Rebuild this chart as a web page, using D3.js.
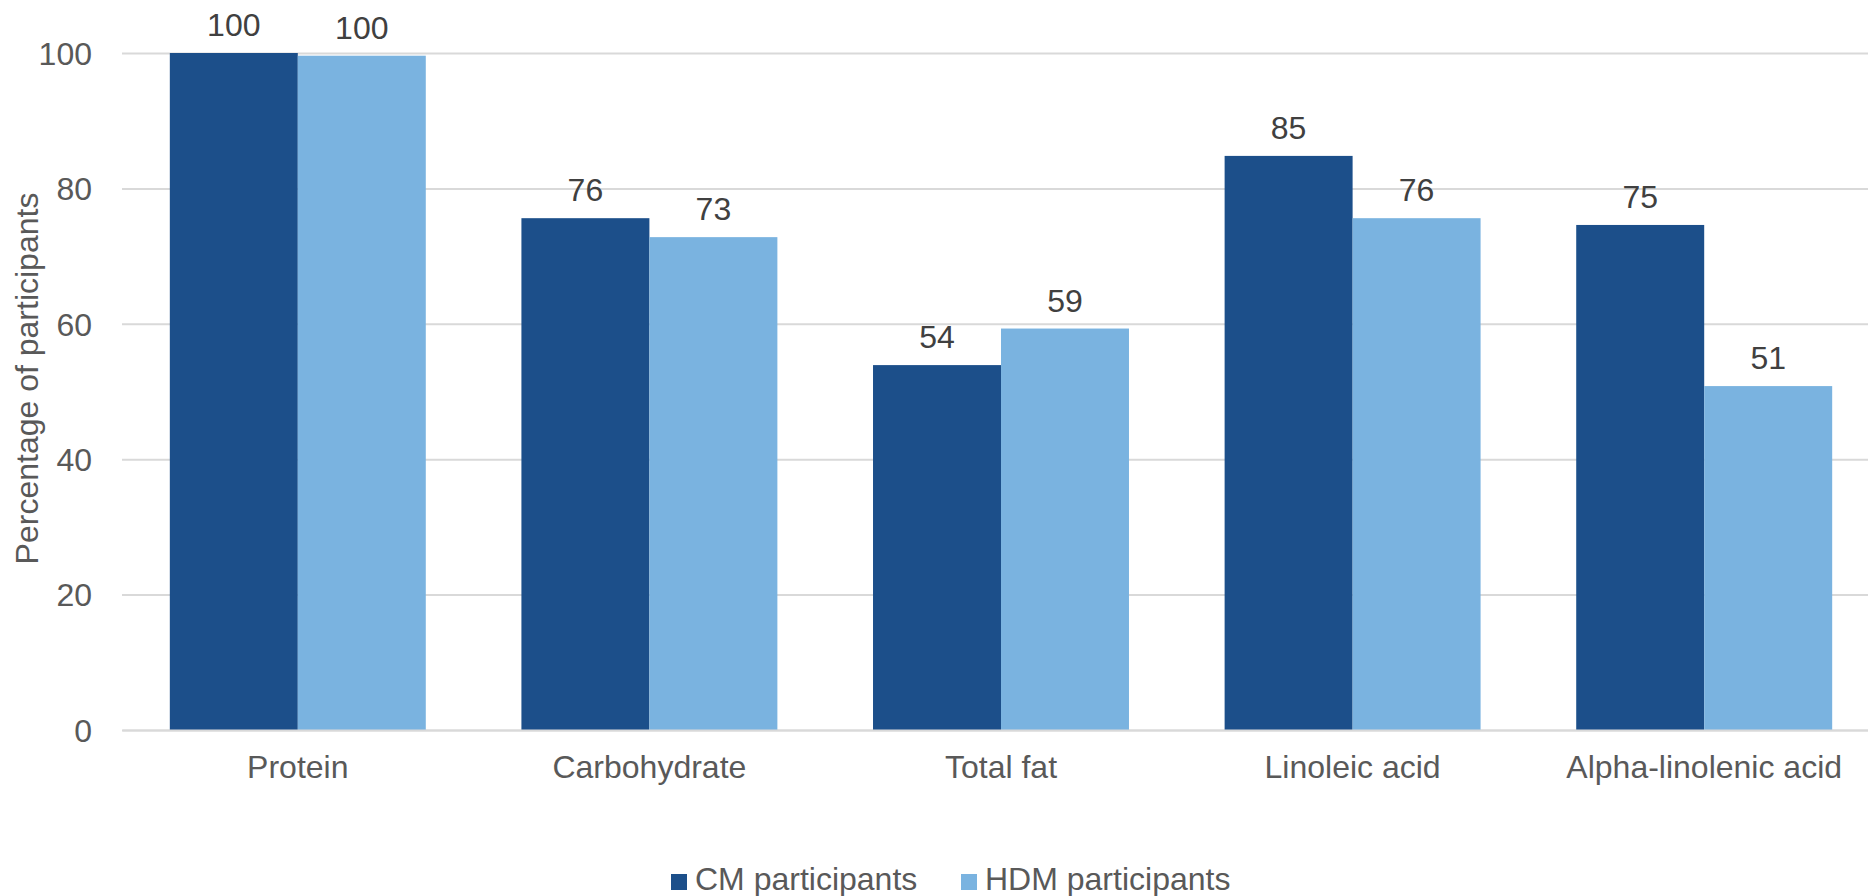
<!DOCTYPE html>
<html>
<head>
<meta charset="utf-8">
<script src="https://cdn.jsdelivr.net/npm/d3@7"></script>
<style>
  html, body { margin: 0; padding: 0; background: #ffffff; }
  svg { display: block; font-family: "Liberation Sans", Arial, sans-serif; }
</style>
</head>
<body>
<svg id="chart" width="1868" height="896"></svg>
<script>
// Nutrients assessed
const categories = ["Protein", "Carbohydrate", "Total fat", "Linoleic acid", "Alpha-linolenic acid"];
// Series names and values (percentage of participants)
const seriesNames = ["CM participants", "HDM participants"];
const cmValues  = [100, 75.6, 53.9, 84.8, 74.6];
const hdmValues = [99.6, 72.8, 59.3, 75.6, 50.8];
const yTicks = [0, 20, 40, 60, 80, 100];

const colors = ["#1c4f8a", "#7ab3e0"];
const seriesValues = [cmValues, hdmValues];

const svg = d3.select("#chart");
const W = 1868, H = 896;
const plot = { left: 122, right: 1880, top: 53, bottom: 730 };

const x = d3.scaleBand()
  .domain(categories)
  .range([plot.left, plot.right])
  .paddingInner(0.272)
  .paddingOuter(0.136);

const xs = d3.scaleBand()
  .domain(seriesNames)
  .range([0, x.bandwidth()]);

const y = d3.scaleLinear()
  .domain([0, 100])
  .range([plot.bottom, plot.top]);

// Horizontal gridlines with tick labels
const yAxis = d3.axisLeft(y)
  .tickValues(yTicks)
  .tickSize(-(plot.right - plot.left))
  .tickPadding(30)
  .tickFormat(d3.format("d"));

const gy = svg.append("g")
  .attr("transform", `translate(${plot.left},0)`)
  .call(yAxis);
gy.select(".domain").remove();
gy.selectAll(".tick line").attr("stroke", "#d9d9d9").attr("stroke-width", 2);
gy.selectAll(".tick text")
  .attr("fill", "#595959")
  .attr("font-size", 32)
  .attr("font-family", "Liberation Sans, Arial, sans-serif")
  .attr("dy", "0.35em");

// Bars
const rows = categories.map((c, i) => ({
  category: c,
  values: seriesNames.map((s, j) => ({ series: s, value: seriesValues[j][i], color: colors[j] }))
}));

const groups = svg.append("g").selectAll("g")
  .data(rows)
  .join("g")
  .attr("transform", d => `translate(${x(d.category)},0)`);

groups.selectAll("rect")
  .data(d => d.values)
  .join("rect")
  .attr("x", d => xs(d.series))
  .attr("width", xs.bandwidth())
  .attr("y", d => y(d.value))
  .attr("height", d => y(0) - y(d.value))
  .attr("fill", d => d.color);

// Value labels above bars
groups.selectAll("text.value")
  .data(d => d.values)
  .join("text")
  .attr("class", "value")
  .attr("x", d => xs(d.series) + xs.bandwidth() / 2)
  .attr("y", d => y(d.value) - 17)
  .attr("text-anchor", "middle")
  .attr("font-size", 32)
  .attr("fill", "#404040")
  .text(d => d3.format(".0f")(d.value));

// Category labels
const gx = svg.append("g")
  .attr("transform", `translate(0,${plot.bottom})`)
  .call(d3.axisBottom(x).tickSize(0).tickPadding(0));
gx.select(".domain").attr("stroke", "#d9d9d9").attr("stroke-width", 2);
gx.selectAll(".tick text")
  .attr("fill", "#595959")
  .attr("font-size", 32)
  .attr("font-family", "Liberation Sans, Arial, sans-serif")
  .attr("y", 48)
  .attr("dy", 0);

// Y axis title
svg.append("text")
  .attr("transform", `translate(38,${(plot.top + plot.bottom) / 2 - 13}) rotate(-90)`)
  .attr("text-anchor", "middle")
  .attr("font-size", 32)
  .attr("fill", "#595959")
  .text("Percentage of participants");

// Legend
const legendItems = [
  { name: seriesNames[0], color: colors[0], x: 671 },
  { name: seriesNames[1], color: colors[1], x: 961 }
];
const lg = svg.append("g").selectAll("g")
  .data(legendItems)
  .join("g")
  .attr("transform", d => `translate(${d.x},874)`);
lg.append("rect")
  .attr("width", 16)
  .attr("height", 16)
  .attr("fill", d => d.color);
lg.append("text")
  .attr("x", 24)
  .attr("y", 16)
  .attr("font-size", 32)
  .attr("fill", "#595959")
  .text(d => d.name);
</script>
</body>
</html>
